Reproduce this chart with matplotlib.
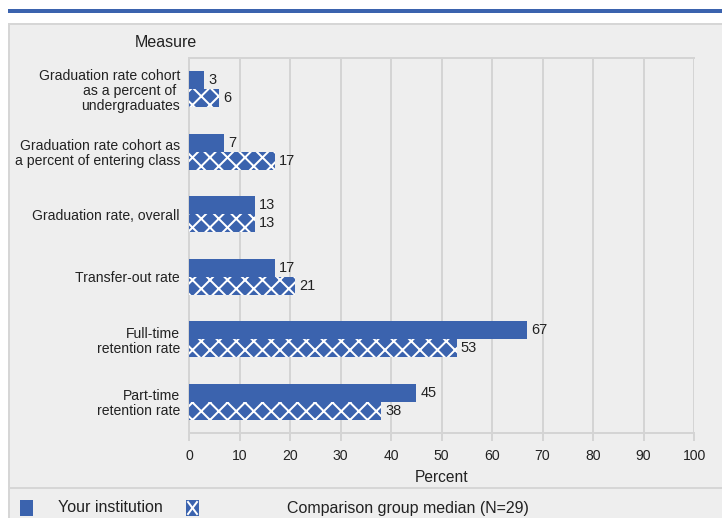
import matplotlib
matplotlib.use("Agg")
import matplotlib.pyplot as plt
from matplotlib.patches import Rectangle
from matplotlib.lines import Line2D
import numpy as np

plt.rcParams['font.family'] = ['Liberation Sans', 'DejaVu Sans']

# donnees
measures = ["Graduation rate cohort\nas a percent of \nundergraduates",
            "Graduation rate cohort as\na percent of entering class",
            "Graduation rate, overall",
            "Transfer-out rate",
            "Full-time\nretention rate",
            "Part-time\nretention rate"]
your_inst = [3, 7, 13, 17, 67, 45]
comp_median = [6, 17, 13, 21, 53, 38]
x_ticks = [0, 10, 20, 30, 40, 50, 60, 70, 80, 90, 100]
lbl_inst = "Your institution"
lbl_comp = "Comparison group median (N=29)"

W, H = 722, 518
DPI = 105
blue = '#3b63ae'
grid_c = '#d4d4d4'
bg = '#eeeeee'
txt = '#222222'

def pt(px):
    # pixels -> points
    return px * 72 / DPI

plt.rcParams['hatch.linewidth'] = pt(2)

fig = plt.figure(figsize=(W / DPI, H / DPI), dpi=DPI)
fig.patch.set_facecolor('white')

def fx(px):
    return px / W

def fy(py):
    return 1 - py / H

# bandeau bleu en haut
fig.patches.append(Rectangle((fx(8), fy(13)), fx(722) - fx(8), fy(9) - fy(13),
                             transform=fig.transFigure, facecolor=blue, edgecolor='none', zorder=-2))
# panneau gris
fig.patches.append(Rectangle((fx(9), fy(520)), fx(730) - fx(9), fy(24) - fy(520),
                             transform=fig.transFigure, facecolor=bg, edgecolor='#d6d6d6',
                             lw=pt(2), zorder=-2))
fig.lines.append(Line2D([fx(9), fx(722)], [fy(488), fy(488)], transform=fig.transFigure,
                        color='#d6d6d6', lw=pt(2), zorder=-1))

ax = fig.add_axes([fx(189), fy(433), fx(694) - fx(189), fy(58) - fy(433)])
ax.set_zorder(2)
ax.set_facecolor(bg)

y = np.arange(len(measures))
h = 0.29
b1 = ax.barh(y - h / 2, your_inst, height=h, color=blue, edgecolor='none', zorder=3)
b2 = ax.barh(y + h / 2, comp_median, height=h, color=blue, edgecolor='white',
             hatch='xx', linewidth=0, zorder=3)

for bars, vals in ((b1, your_inst), (b2, comp_median)):
    for rect, v in zip(bars, vals):
        ax.text(v + 0.8, rect.get_y() + rect.get_height() / 2, str(v),
                va='center', ha='left', fontsize=pt(14.5), color=txt, zorder=4)

ax.set_xlim(0, 100)
ax.set_ylim(len(measures) - 0.5, -0.5)
ax.set_xticks(x_ticks)
ax.set_yticks(y)
ax.set_yticklabels(measures, fontsize=pt(14), color=txt, ha='right',
                   multialignment='right', linespacing=1.1)
ax.tick_params(axis='y', length=0, pad=pt(9))
ax.tick_params(axis='x', length=pt(8), width=pt(2), color=grid_c, labelsize=pt(14),
               labelcolor=txt, pad=pt(8))
ax.grid(axis='x', color=grid_c, lw=pt(2), zorder=1)
for s in ax.spines.values():
    s.set_color(grid_c)
    s.set_linewidth(pt(2))
ax.spines['right'].set_visible(False)
ax.set_xlabel("Percent", fontsize=pt(15.5), color=txt, labelpad=pt(7))

fig.text(fx(166), fy(42), "Measure", fontsize=pt(16), ha='center', va='center', color=txt)

# legende
fig.patches.append(Rectangle((fx(20), fy(516)), fx(13), fy(500) - fy(516),
                             transform=fig.transFigure, facecolor=blue, edgecolor='none'))
fig.text(fx(58), fy(508), lbl_inst, fontsize=pt(16), va='center', ha='left', color=txt)
fig.patches.append(Rectangle((fx(186), fy(516)), fx(13), fy(500) - fy(516),
                             transform=fig.transFigure, facecolor=blue, edgecolor='none'))
for xs, ys in (([188, 197], [502, 514]), ([188, 197], [514, 502])):
    fig.lines.append(Line2D([fx(v) for v in xs], [fy(v) for v in ys],
                            transform=fig.transFigure, color='white', lw=pt(2)))
fig.text(fx(287), fy(508), lbl_comp, fontsize=pt(16), va='center', ha='left', color=txt)

fig.savefig("out.png", dpi=DPI)
